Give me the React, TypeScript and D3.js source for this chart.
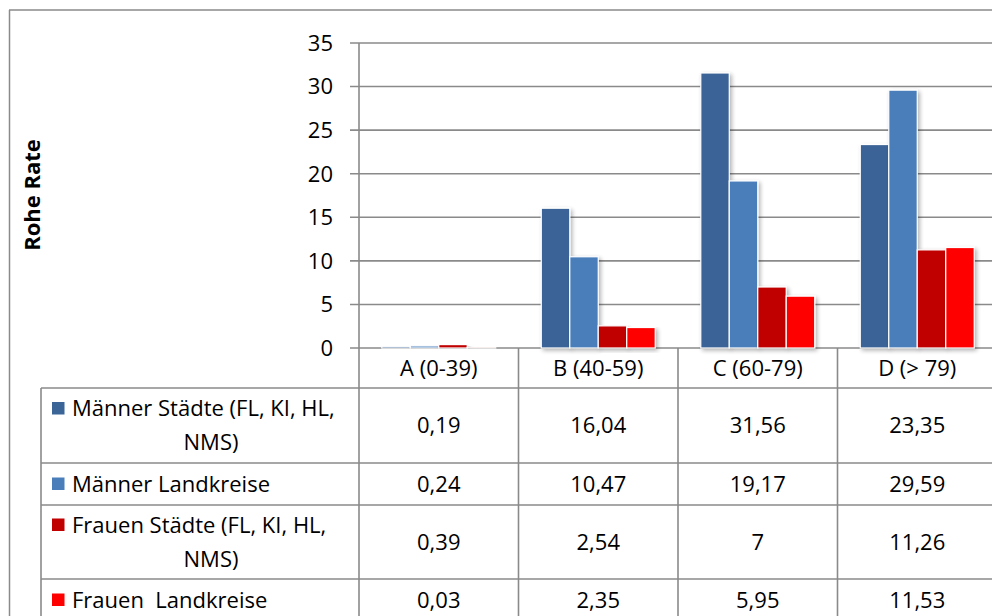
import React from "react";
import * as d3 from "d3";

const categories = ["A (0-39)", "B (40-59)", "C (60-79)", "D (> 79)"];
const seriesNames = [
  "Männer Städte (FL, KI, HL, NMS)",
  "Männer Landkreise",
  "Frauen Städte (FL, KI, HL, NMS)",
  "Frauen  Landkreise",
];
const seriesLines = [
  ["Männer Städte (FL, KI, HL,", "NMS)"],
  ["Männer Landkreise"],
  ["Frauen Städte (FL, KI, HL,", "NMS)"],
  ["Frauen  Landkreise"],
];
const seriesValues = [
  [0.19, 16.04, 31.56, 23.35],
  [0.24, 10.47, 19.17, 29.59],
  [0.39, 2.54, 7, 11.26],
  [0.03, 2.35, 5.95, 11.53],
];
const seriesLabels = [
  ["0,19", "16,04", "31,56", "23,35"],
  ["0,24", "10,47", "19,17", "29,59"],
  ["0,39", "2,54", "7", "11,26"],
  ["0,03", "2,35", "5,95", "11,53"],
];
const colors = ["#3B6497", "#4A7EBB", "#C00000", "#FF0000"];
const yTicks = [0, 5, 10, 15, 20, 25, 30, 35];
const yTitle = "Rohe Rate";

const FONT = "'Open Sans', 'DejaVu Sans', sans-serif";
const GRID = "#8a8a8a";

export default function App() {
  const y = d3.scaleLinear().domain([0, 35]).range([348, 43]);
  const x0 = d3.scaleBand<string>().domain(categories).range([359, 997]).paddingInner(0).paddingOuter(0);
  const bw = x0.bandwidth();
  const barW = bw / (4 + 1.6);
  const gOff = (bw - barW * 4) / 2;
  const x1 = d3.scaleBand<number>().domain([0, 1, 2, 3]).range([gOff, gOff + barW * 4]).padding(0);

  const rowEdges = [388, 463, 505, 579, 621];
  const legendLeft = 41;

  return (
    <svg
      width={992}
      height={616}
      style={{ position: "absolute", left: 0, top: 0, background: "#fff" }}
      fontFamily={FONT}
    >
      <defs>
        <filter id="sh" x="-30%" y="-10%" width="160%" height="130%">
          <feGaussianBlur in="SourceAlpha" stdDeviation="2.2" />
          <feOffset dx="2" dy="2" result="b" />
          <feComponentTransfer>
            <feFuncA type="linear" slope="0.3" />
          </feComponentTransfer>
          <feMerge>
            <feMergeNode />
            <feMergeNode in="SourceGraphic" />
          </feMerge>
        </filter>
      </defs>
      <rect x={0} y={0} width={992} height={616} fill="#fff" />
      {/* outer chart border */}
      <line x1={9.5} y1={10} x2={9.5} y2={616} stroke={GRID} strokeWidth={1.5} />
      <line x1={9} y1={10} x2={992} y2={10} stroke={GRID} strokeWidth={1.5} />

      {/* y title */}
      <text
        transform={`translate(40,195) rotate(-90)`}
        textAnchor="middle"
        fontWeight="bold"
        fontSize={22}
        fill="#000"
      >
        {yTitle}
      </text>

      {/* gridlines & ticks */}
      {yTicks.map((t) => (
        <g key={t}>
          <line x1={350} x2={992} y1={y(t)} y2={y(t)} stroke={GRID} strokeWidth={1.6} />
          <text x={333} y={y(t)} dy="0.36em" textAnchor="end" fontSize={22} fill="#000">
            {t}
          </text>
        </g>
      ))}
      {/* axis */}
      <line x1={359} x2={359} y1={43} y2={616} stroke={GRID} strokeWidth={1.6} />

      {/* bars */}
      {seriesValues.map((vals, s) =>
        vals.map((v, i) => (
          <rect
            key={`${s}-${i}`}
            x={(x0(categories[i]) as number) + (x1(s) as number)}
            y={y(v)}
            width={x1.bandwidth()}
            height={y(0) - y(v)}
            fill={colors[s]}
            stroke="#fff"
            strokeWidth={1.2}
            filter="url(#sh)"
          />
        ))
      )}

      {/* table: category header */}
      {categories.map((c) => (
        <g key={c}>
          <line
            x1={(x0(c) as number) + bw}
            x2={(x0(c) as number) + bw}
            y1={348}
            y2={616}
            stroke={GRID}
            strokeWidth={1.6}
          />
          <text
            x={(x0(c) as number) + bw / 2}
            y={368}
            dy="0.36em"
            textAnchor="middle"
            fontSize={22}
            fill="#000"
          >
            {c}
          </text>
        </g>
      ))}
      {/* horizontal table lines */}
      {rowEdges.slice(0, 4).map((ry) => (
        <line key={ry} x1={legendLeft} x2={992} y1={ry} y2={ry} stroke={GRID} strokeWidth={1.6} />
      ))}
      <line x1={legendLeft} x2={legendLeft} y1={388} y2={616} stroke={GRID} strokeWidth={1.6} />

      {/* table rows */}
      {seriesNames.map((name, s) => {
        const top = rowEdges[s];
        const bot = rowEdges[s + 1];
        const mid = (top + bot) / 2;
        const lines = seriesLines[s];
        const two = lines.length > 1;
        const firstY = two ? mid - 17 : mid;
        return (
          <g key={name}>
            <rect x={52} y={firstY - 6.5} width={12.5} height={12.5} fill={colors[s]} />
            <text x={72} y={firstY} dy="0.36em" fontSize={22} fill="#000" style={{ whiteSpace: "pre" }}>
              {lines[0]}
            </text>
            {two && (
              <text x={211} y={firstY + 34} dy="0.36em" textAnchor="middle" fontSize={22} fill="#000">
                {lines[1]}
              </text>
            )}
            {seriesLabels[s].map((lab, i) => (
              <text
                key={i}
                x={(x0(categories[i]) as number) + bw / 2}
                y={mid}
                dy="0.36em"
                textAnchor="middle"
                fontSize={22}
                fill="#000"
              >
                {lab}
              </text>
            ))}
          </g>
        );
      })}
    </svg>
  );
}
